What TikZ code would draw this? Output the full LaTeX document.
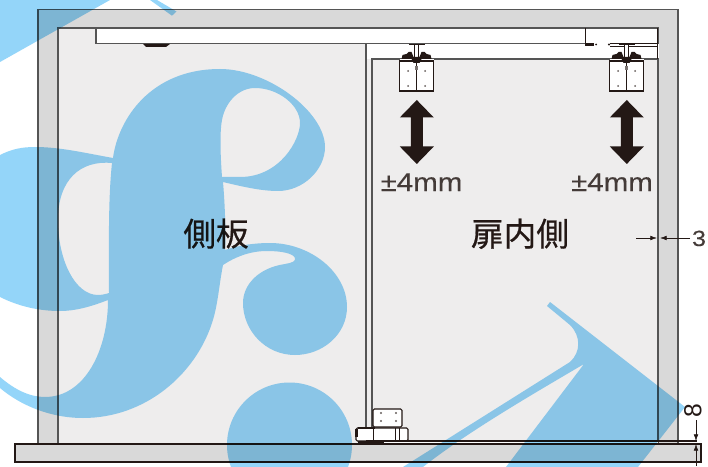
\documentclass[tikz,border=0pt]{standalone}
\usepackage{fontspec}
\setmainfont{Liberation Sans}
\newfontfamily\cjkfont[FakeBold=0.5]{Noto Sans CJK JP}
\newfontfamily\widefont[FakeStretch=1.15,FakeBold=0.15]{Liberation Sans}
\usetikzlibrary{arrows.meta}
\definecolor{ink}{HTML}{231815}
\definecolor{wallgray}{HTML}{D9D9D9}
\definecolor{panelgray}{HTML}{EEEDED}
\definecolor{framegray}{HTML}{555555}
\definecolor{markblue}{HTML}{94D5F9}
\tikzset{
  x=0.75pt,y=-0.75pt,
  wall/.style={fill=wallgray,draw=framegray,line width=1pt},
  panel/.style={fill=panelgray,draw=framegray,line width=1pt},
  plate/.style={fill=white,draw=ink,line width=0.8pt},
  thinline/.style={draw=ink,line width=0.6pt},
  bigarrow/.style={fill=ink,draw=none},
  dimline/.style={draw=ink,line width=0.5pt},
  labelbig/.style={text=ink,anchor=base,inner sep=0pt,font=\cjkfont\fontsize{24.5}{26}\selectfont},
  labelmm/.style={text=ink!85,anchor=base,inner sep=0pt,font=\widefont\fontsize{19.25}{20}\selectfont},
  wmark/.style={fill=markblue,even odd rule,blend mode=multiply,draw=none},
}
\newcommand{\hangerat}[1]{%
\begin{scope}[shift={(#1,0)}]
  \fill[plate,draw=none] (-17,59) rectangle (17,91);
  \draw[plate] (-17,91) -- (-17,61) -- (17,61) -- (17,91) -- cycle;
  \draw[thinline] (0,63) -- (0,91);
  \fill[ink] (-8,44) rectangle (8,45.5);
  \fill[white] (-2,45) rectangle (2,58);
  \draw[thinline] (-2,45) -- (-2,58) (2,45) -- (2,58);
  \fill[ink] (-15,59) -- (-14,55) -- (-10,54) -- (-8,52) -- (-5,52) -- (-3,57) -- (3,57) -- (5,52) -- (8,52) -- (10,54) -- (14,55) -- (15,59) -- cycle;
  \fill[ink] (-5,59) -- (5,59) -- (3,63) -- (-3,63) -- cycle;
  \fill[ink!60] (-1.5,66) rectangle (1.5,70);
  \foreach \dx/\dy in {-8.5/71,8.5/71,-8.5/86,8.5/86} \fill[ink!70] (\dx,\dy) circle (1);
\end{scope}}
\newcommand{\dblarrowat}[1]{%
  \fill[bigarrow,shift={(#1,0)}] (0,100) -- (17,117.5) -- (6,117.5) -- (6,146.5) -- (17,146.5) -- (0,164) -- (-17,146.5) -- (-6,146.5) -- (-6,117.5) -- (-17,117.5) -- cycle;}
\begin{document}
\begin{tikzpicture}
\useasboundingbox (0,0) rectangle (708,467);
\fill[white] (0,0) rectangle (708,467);
% walls
\path[wall] (38,9.5) rectangle (678,444);
\path[panel] (58,28) rectangle (658.5,444);
% rail and white strip
\fill[white] (366,44) rectangle (658.5,59);
\path[plate,draw=framegray] (96,28) rectangle (658.5,43.5);
\draw[thinline] (585.5,28) -- (585.5,43.5);
\fill[white] (586,43) rectangle (657,44);
% door
\draw[draw=framegray,line width=1pt] (366,44) -- (366,427);
\draw[draw=framegray,line width=1pt] (372,427) -- (372,59) -- (658,59) -- (658,441);
\fill[white] (366,441) rectangle (658,444);
% rail hardware
\fill[ink] (143,44) -- (170,44) -- (166,47) -- (146,47) -- cycle;
\fill[ink] (585,43) rectangle (594,46);
\fill[ink] (596,44.5) circle (1);
\fill[ink] (609,44.5) circle (1.2);
\draw[thinline] (610,43) -- (657,43) (610,46) -- (657,46);
\draw[ink,line width=1pt] (657.5,28) -- (657.5,59);
\hangerat{416.5}
\hangerat{626.5}
\dblarrowat{416.8}
\dblarrowat{626.8}
% bottom hardware
\draw[plate,rounded corners=1pt] (373,409) rectangle (402,427);
\foreach \dx/\dy in {381/413,396/413,381/421,396/421} \fill[ink!70] (\dx,\dy) circle (1.1);
\draw[plate,rounded corners=1pt] (356,428) rectangle (408,441);
\draw[thinline] (373,428) -- (373,441) (395,428) -- (395,441) (399,428) -- (399,441);
\fill[ink] (355,429) rectangle (358,437);
\fill[ink] (358,427) -- (375,427) -- (375,428.5) -- (358,428.5) -- cycle;
\fill[ink] (358,441) rectangle (384,444);
% floor
\draw[ink,line width=0.8pt] (366,441) -- (697,441);
\path[fill=wallgray,draw=ink,line width=1pt] (15,444) rectangle (701,462);
% dimension 3
\coordinate (gapL) at (657,238);
\coordinate (gapR) at (660,238);
\draw[dimline,-{Latex[length=5pt,width=3.5pt]}] (636,238) -- (gapL);
\draw[dimline,-{Latex[length=5pt,width=3.5pt]}] (690,238) -- (gapR);
\node[labelmm,font=\widefont\fontsize{16.5}{18}\selectfont] (dimthree) at (699,246) {3};
% dimension 8
\coordinate (gapT) at (696,441);
\coordinate (gapB) at (696,444);
\draw[dimline,-{Latex[length=5pt,width=3.5pt]}] (696,420) -- (gapT);
\draw[dimline,-{Latex[length=5pt,width=3.5pt]}] (696,466) -- (gapB);
\node[text=ink,inner sep=0pt,rotate=90,font=\fontsize{18.5}{20}\selectfont] (dimeight) at (693,411) {8};
% labels
\node[labelmm] (adjL) at (421.5,191) {±4mm};
\node[labelmm] (adjR) at (612,191) {±4mm};
\node[labelbig] (side) at (216,246) {側板};
\node[labelbig] (door) at (520,246) {扉内側};
% watermark
\begin{scope}
\clip (0,0) rectangle (708,467);
\path[wmark] (0,0) -- (110,0) -- (0,62) -- cycle;
\path[wmark] (150,0) -- (157,0) -- (176.5,11.5) -- (172,15.7) -- cycle;
\path[wmark]
  (0,155) .. controls (12,149) and (22,147) .. (35,147)
  .. controls (60,147) and (85,153) .. (113,158)
  .. controls (118,120) and (150,69) .. (220,69)
  .. controls (268,69) and (325,112) .. (325,147)
  .. controls (325,170) and (303,191) .. (278,191)
  .. controls (260,191) and (240,186) .. (223,182)
  .. controls (225,205) and (226,235) .. (225,250)
  .. controls (240,245) and (255,243) .. (270,243)
  .. controls (310,243) and (347,272) .. (347,307)
  .. controls (347,335) and (322,355) .. (295,355)
  .. controls (265,355) and (243,330) .. (243,303)
  .. controls (243,285) and (258,268) .. (285,264)
  .. controls (292,263) and (296,261) .. (295,258)
  .. controls (293,253) and (280,251) .. (267,251)
  .. controls (250,251) and (235,257) .. (223,265)
  .. controls (219,285) and (218,305) .. (212,323)
  .. controls (195,375) and (145,418) .. (83,418)
  .. controls (50,418) and (20,405) .. (0,388)
  -- (0,377)
  .. controls (15,390) and (30,397) .. (45,397)
  .. controls (85,397) and (108,350) .. (108,300)
  .. controls (90,307) and (75,311) .. (60,311)
  .. controls (38,311) and (18,306) .. (0,297)
  -- cycle
  (112,163) .. controls (80,160) and (58,180) .. (58,220)
  .. controls (58,260) and (75,295) .. (98,295)
  .. controls (102,295) and (106,294) .. (109,293)
  .. controls (109,250) and (108,200) .. (112,163) -- cycle
  (222,177) .. controls (220,150) and (220,130) .. (222,120)
  .. controls (225,103) and (238,88) .. (255,88)
  .. controls (278,88) and (300,105) .. (300,123)
  .. controls (300,140) and (280,177) .. (240,177)
  .. controls (233,177) and (228,177) .. (222,177) -- cycle;
\path[wmark] (289.5,445) circle (62.5);
\path[wmark] (550,302) -- (685,407) -- (638,467) -- (506,467) -- (584,364) .. controls (540,390) and (470,430) .. (423,467) -- (403,467)
  -- (570,362) .. controls (581,352) and (581,336) .. (570,325) -- (547,306) -- cycle;
\end{scope}
\end{tikzpicture}
\end{document}
